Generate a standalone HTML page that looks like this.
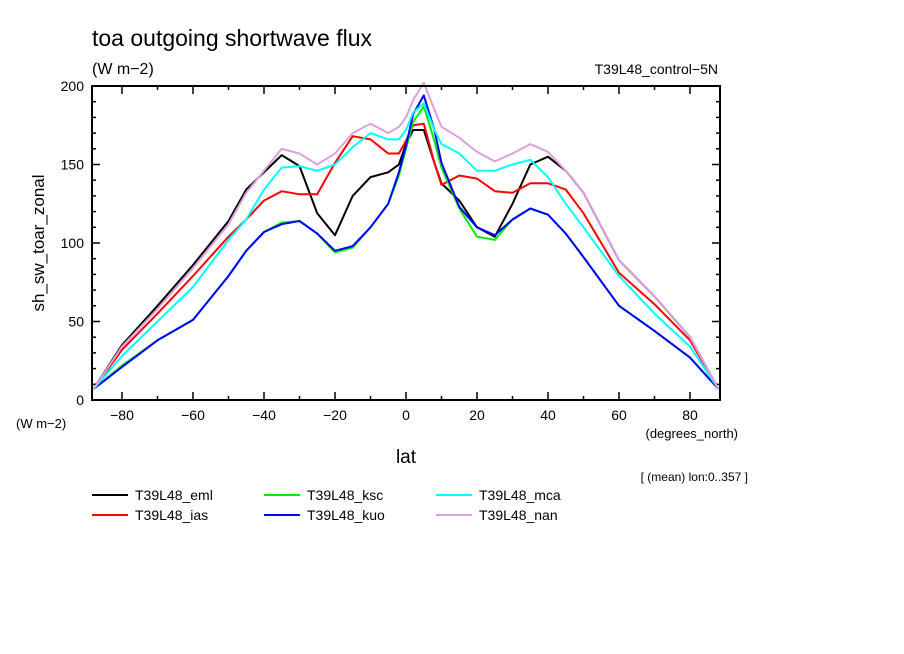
<!DOCTYPE html>
<html><head><meta charset="utf-8"><style>
body{margin:0;background:#fff;}
svg{display:block;font-family:"Liberation Sans",sans-serif;}
</style></head><body>
<svg id="c" width="904" height="654" viewBox="0 0 904 654">
<rect width="904" height="654" fill="#fff"/>
<text x="92" y="46" font-size="23">toa outgoing shortwave flux</text>
<text x="92" y="74" font-size="16">(W m−2)</text>
<text x="718" y="74" font-size="14" text-anchor="end">T39L48_control−5N</text>
<text x="44" y="243" font-size="17" text-anchor="middle" transform="rotate(-90 44 243)">sh_sw_toar_zonal</text>
<text x="16" y="428" font-size="13">(W m−2)</text>
<text x="738" y="438" font-size="13" text-anchor="end">(degrees_north)</text>
<text x="406" y="463" font-size="19" text-anchor="middle">lat</text>
<text x="748" y="481" font-size="12" text-anchor="end">[ (mean) lon:0..357 ]</text>
<g id="ticks"></g>
<g id="series"></g>
<rect x="92" y="86" width="628" height="314" fill="none" stroke="#000" stroke-width="2"/>
<g id="legend"></g>
</svg>
<script>
const lats = [-88,-80,-70,-60,-50,-45,-40,-35,-30,-25,-20,-15,-10,-5,-2,0,2,5,8,10,15,20,25,30,35,40,45,50,60,70,80,88];
const seriesNames = ["T39L48_eml","T39L48_ias","T39L48_ksc","T39L48_kuo","T39L48_mca","T39L48_nan"];
const eml = [7,35,60,86,114,134,145,156,149,119,105,130,142,145,150,163,172,172,151,138,127,110,104,125,150,155,146,132,89,66,40,7];
const ias = [7,32,55,79,104,115,127,133,131,131,151,168,166,157,157,165,175,176,151,137,143,141,133,132,138,138,134,119,81,61,38,7];
const ksc = [7,22,38,51,79,95,107,113,114,106,94,97,110,125,143,160,177,187,165,148,122,104,102,115,122,118,106,91,60,44,27,7];
const kuo = [7,21,38,51,79,95,107,112,114,106,95,98,110,125,145,162,182,194,172,151,123,110,105,115,122,118,106,91,60,44,27,7];
const mca = [7,28,50,72,102,115,134,148,149,146,150,161,170,166,166,172,183,189,172,163,157,146,146,150,153,142,125,110,79,55,34,7];
const nan = [7,34,58,84,112,132,146,160,157,150,157,170,176,170,174,180,191,202,185,174,167,158,152,157,163,158,146,132,89,66,40,7];
const xTicks = [-80,-60,-40,-20,0,20,40,60,80];
const yTicks = [0,50,100,150,200];
const colors = ["#000000","#ff0000","#00ee00","#0000ff","#00ffff","#dda0dd"];
const allSeries = [eml,ias,ksc,kuo,mca,nan];
const NS="http://www.w3.org/2000/svg";
const X0=92,X1=720,Y0=400,Y1=86;
function xs(l){return 406+(l/88.45)*(720-406);}
function ys(v){return Y0-(v/200)*(Y0-Y1);}
const tg=document.getElementById('ticks');
function ln(g,x1,y1,x2,y2,sw){const l=document.createElementNS(NS,'line');l.setAttribute('x1',x1);l.setAttribute('y1',y1);l.setAttribute('x2',x2);l.setAttribute('y2',y2);l.setAttribute('stroke','#000');l.setAttribute('stroke-width',sw||1.5);g.appendChild(l);return l;}
for(let l=-80;l<=80;l+=10){const x=xs(l);const m=(l%20===0)?8:4;
 const a=ln(tg,x,Y0,x,Y0-m);
 const b=ln(tg,x,Y1,x,Y1+m);}
for(let v=0;v<=200;v+=10){const y=ys(v);const m=(v%50===0)?8:4;
 const a=ln(tg,X0,y,X0+m,y);
 const b=ln(tg,X1,y,X1-m,y);}
xTicks.forEach(l=>{const t=document.createElementNS(NS,'text');t.setAttribute('x',xs(l));t.setAttribute('y',420);t.setAttribute('font-size','14');t.setAttribute('text-anchor','middle');t.textContent=(l<0?'−'+(-l):l);
 
 tg.appendChild(t);});
yTicks.forEach(v=>{const t=document.createElementNS(NS,'text');t.setAttribute('x',84);t.setAttribute('y',ys(v)+5);t.setAttribute('font-size','14');t.setAttribute('text-anchor','end');t.textContent=v;
 
 tg.appendChild(t);});
const sg=document.getElementById('series');
allSeries.forEach((d,i)=>{const p=document.createElementNS(NS,'polyline');
 p.setAttribute('points',d.map((v,j)=>xs(lats[j]).toFixed(1)+','+ys(v).toFixed(1)).join(' '));
 p.setAttribute('fill','none');p.setAttribute('stroke',colors[i]);p.setAttribute('stroke-width','2');p.setAttribute('stroke-linejoin','round');
 
 
 sg.appendChild(p);});
const lg=document.getElementById('legend');
const order=[0,2,4,1,3,5];
order.forEach((si,k)=>{const col=k%3,row=Math.floor(k/3);const x=92+col*172,y=495+row*20;
 const g=document.createElementNS(NS,'g');
 
 
 const l=ln(g,x,y,x+36,y,2);l.setAttribute('stroke',colors[si]);
 const t=document.createElementNS(NS,'text');t.setAttribute('x',x+43);t.setAttribute('y',y+5);t.setAttribute('font-size','14');t.textContent=seriesNames[si];g.appendChild(t);
 lg.appendChild(g);});
</script>
</body></html>
